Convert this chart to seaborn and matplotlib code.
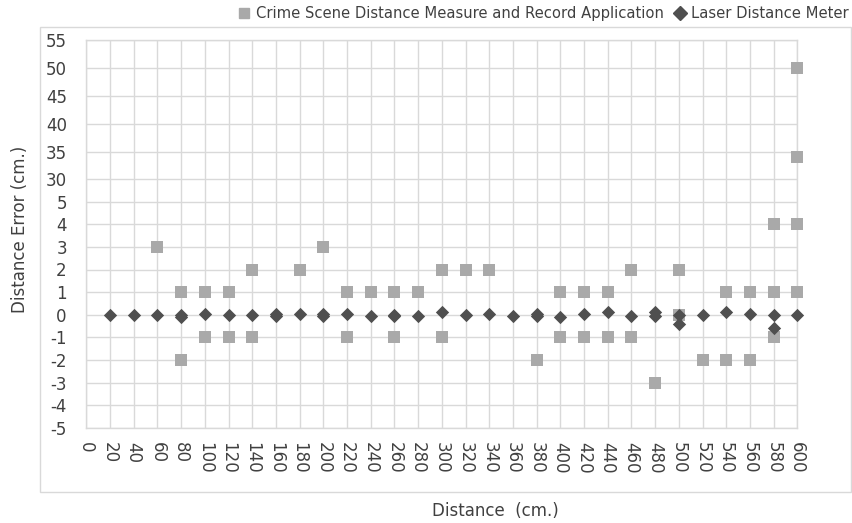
import numpy as np
import pandas as pd
import matplotlib
matplotlib.use("Agg")
import matplotlib.pyplot as plt
import seaborn as sns
from matplotlib.lines import Line2D
from matplotlib.patches import Rectangle

# series names
app_name = "Crime Scene Distance Measure and Record Application"
laser_name = "Laser Distance Meter"

# Crime scene app: distance error per measurement
app_distance = [60, 80, 80, 100, 100, 120, 120, 140, 140, 180, 200,
                220, 220, 240, 260, 260, 280, 300, 300, 320, 340, 380,
                400, 400, 420, 420, 440, 440, 460, 460, 480, 500, 500,
                520, 540, 540, 560, 560, 580, 580, 580, 600, 600, 600, 600]
app_error = [3, 1, -2, 1, -1, 1, -1, 2, -1, 2, 3,
             1, -1, 1, 1, -1, 1, 2, -1, 2, 2, -2,
             1, -1, 1, -1, 1, -1, 2, -1, -3, 2, 0,
             -2, 1, -2, 1, -2, 4, 1, -1, 50, 34, 4, 1]

# Laser distance meter
laser_distance = [20, 40, 60, 80, 80, 100, 120, 140, 160, 160, 180, 200, 200,
                  220, 240, 260, 260, 280, 300, 320, 340, 360, 380, 380,
                  400, 420, 440, 460, 480, 480, 500, 500, 520, 540, 560,
                  580, 580, 600]
laser_error = [0, 0, 0, 0, -0.1, 0.05, 0, 0, 0.05, -0.05, 0.05, 0.05, -0.05,
               0.05, -0.05, 0, -0.05, -0.05, 0.1, 0, 0.05, -0.05, 0.05, -0.05,
               -0.1, 0.05, 0.1, -0.05, 0.1, -0.05, 0, -0.4, 0, 0.1, 0.05,
               0, -0.6, 0]

x_ticks = list(range(0, 601, 20))
y_ticks = [-5, -4, -3, -2, -1, 0, 1, 2, 3, 4, 5, 30, 35, 40, 45, 50, 55]

# broken value axis: value -> position (the chart squeezes 5..30 into one step)
brk_val = [-1005, -5, 5, 30, 55, 1055]
brk_pos = [-22600, 0, 226, 248.3, 387.7, 387.7 + 5600]


def fwd(v):
    return np.interp(v, brk_val, brk_pos)


def inv(p):
    return np.interp(p, brk_pos, brk_val)


df_app = pd.DataFrame({"Distance": app_distance, "Error": app_error})
df_laser = pd.DataFrame({"Distance": laser_distance, "Error": laser_error})

sns.set_theme(style="white")
plt.rcParams["font.family"] = ["DejaVu Sans"]
text_color = "#404040"
grid_color = "#D9D9D9"

fig = plt.figure(figsize=(8.52, 5.23), dpi=100)
ax = fig.add_axes([86.3 / 852, 95.3 / 523, 711 / 852, 387.7 / 523])

sns.scatterplot(data=df_app, x="Distance", y="Error", marker="s", s=74,
                color="#A9A9A9", linewidth=0, ax=ax, zorder=3, clip_on=False)
sns.scatterplot(data=df_laser, x="Distance", y="Error", marker="D", s=46,
                color="#4F4F4F", linewidth=0, ax=ax, zorder=4, clip_on=False)

ax.set_yscale("function", functions=(fwd, inv))
ax.set_xlim(0, 600)
ax.set_ylim(-5, 55)
ax.set_xticks(x_ticks)
ax.set_xticklabels([str(t) for t in x_ticks], rotation=-90, fontsize=12,
                   color=text_color, va="top", ha="center")
ax.set_yticks(y_ticks)
ax.set_yticklabels([str(t) for t in y_ticks], fontsize=12, color=text_color)
ax.yaxis.set_minor_locator(matplotlib.ticker.NullLocator())
ax.tick_params(axis="x", length=0, pad=10)
ax.tick_params(axis="y", length=0, pad=14)
ax.grid(True, color=grid_color, linewidth=1)
ax.set_axisbelow(True)
for sp in ax.spines.values():
    sp.set_color(grid_color)
    sp.set_linewidth(1)
ax.set_xlabel("")
ax.set_ylabel("")

# axis titles placed where the reference has them
fig.text(495 / 852, 1 - 511 / 523, "Distance  (cm.)", fontsize=12,
         color=text_color, ha="center", va="center")
fig.text(20 / 852, 1 - 229 / 523, "Distance Error (cm.)", fontsize=12,
         color=text_color, ha="center", va="center", rotation=90)

# chart border
fig.patches.append(Rectangle((40 / 852, 31 / 523), 811 / 852, 465 / 523,
                             transform=fig.transFigure, fill=False,
                             edgecolor=grid_color, linewidth=1))

handles = [
    Line2D([], [], marker="s", linestyle="none", color="#A9A9A9", markersize=7),
    Line2D([], [], marker="D", linestyle="none", color="#4F4F4F", markersize=7),
]
fig.legend(handles, [app_name, laser_name], loc="upper right",
           bbox_to_anchor=(1.012, 1.014), ncol=2, frameon=False,
           fontsize=10.6, handletextpad=0.3, columnspacing=0.6,
           handlelength=1.0, labelcolor=text_color)

fig.savefig("out.png", dpi=100)
